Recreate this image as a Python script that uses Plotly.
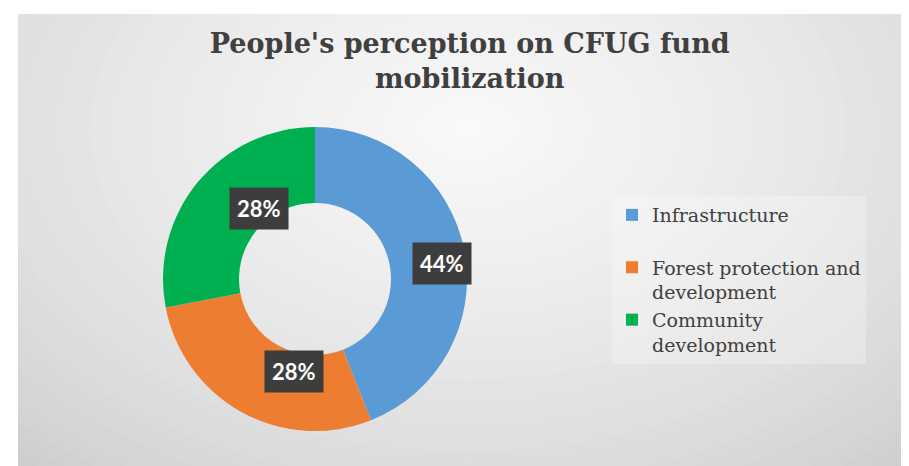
import math
import plotly.graph_objects as go

# data
categories = ["Infrastructure", "Forest protection and development", "Community development"]
legend_labels = ["Infrastructure<br> ", "Forest protection and<br>development", "Community<br>development"]
shares = [44, 28, 28]
colors = ["#5B9BD5", "#ED7D31", "#00B050"]

W, H = 909, 466
cx, cy, R = 315, 278, 152   # donut centre / radius in px
hole = 0.5
serif = "DejaVu Serif, Liberation Serif, serif"

fig = go.Figure()

# plotly drew the pie ~8px right / 7px low of the domain centre, so nudge it back
fig.add_trace(go.Pie(
    labels=legend_labels,
    values=shares,
    customdata=categories,
    hole=hole,
    sort=False,
    direction="clockwise",
    rotation=0,
    marker=dict(colors=colors, line=dict(width=0)),
    textinfo="none",
    hovertemplate="%{customdata}: %{percent}<extra></extra>",
    domain=dict(x=[(cx - 8 - R) / W, (cx - 8 + R) / W], y=[(H - cy + 7 - R) / H, (H - cy + 7 + R) / H]),
))

# dark boxed percentage labels in the middle of each ring segment
total = sum(shares)
start = 0
annotations = []
for v in shares:
    mid = (start + v / 2) / total * 2 * math.pi
    start += v
    r = R * 0.8
    px = cx + r * math.sin(mid)
    py = cy - r * math.cos(mid)
    annotations.append(dict(
        x=px / W, y=1 - py / H, xref="paper", yref="paper",
        text="<b>%d%%</b>" % round(100 * v / total), showarrow=False,
        font=dict(family="Lato, Open Sans, sans-serif", size=22, color="white"),
        bgcolor="#3d3d3d", borderpad=7,
    ))

# background: white frame + radial grey gradient
shapes = [dict(type="rect", xref="paper", yref="paper", x0=10 / W, x1=1, y0=0, y1=1 - 6 / H,
               fillcolor="#c6c6c6", line=dict(width=0), layer="below")]
gx, gy = 460, 120
n = 40
for i in range(n):
    t = i / n
    rx, ry = 720 * (1 - t), 480 * (1 - t)
    c = int(198 + (250 - 198) * (t ** 0.65))
    shapes.append(dict(type="circle", xref="paper", yref="paper",
                       x0=(gx - rx) / W, x1=(gx + rx) / W, y0=1 - (gy + ry) / H, y1=1 - (gy - ry) / H,
                       fillcolor="rgb(%d,%d,%d)" % (c, c, c), line=dict(width=0), layer="below"))
shapes.append(dict(type="rect", xref="paper", yref="paper", x0=0, x1=10 / W, y0=0, y1=1,
                   fillcolor="white", line=dict(width=0), layer="below"))
shapes.append(dict(type="rect", xref="paper", yref="paper", x0=0, x1=1, y0=1 - 6 / H, y1=1,
                   fillcolor="white", line=dict(width=0), layer="below"))

fig.update_layout(
    width=W, height=H,
    margin=dict(l=0, r=0, t=0, b=0),
    paper_bgcolor="white",
    title=dict(
        text="<b>People's perception on CFUG fund<br>mobilization</b>",
        x=0.508, xanchor="center", y=1 - 45 / H, yanchor="top",
        font=dict(family=serif, size=27, color="#404040"),
    ),
    legend=dict(
        x=604 / W, y=1 - 188 / H, xanchor="left", yanchor="top", valign="top",
        font=dict(family=serif, size=19, color="#404040"),
        bgcolor="rgba(255,255,255,0.25)", itemwidth=30,
    ),
    annotations=annotations,
    shapes=shapes,
)

fig.write_html("out.html")
